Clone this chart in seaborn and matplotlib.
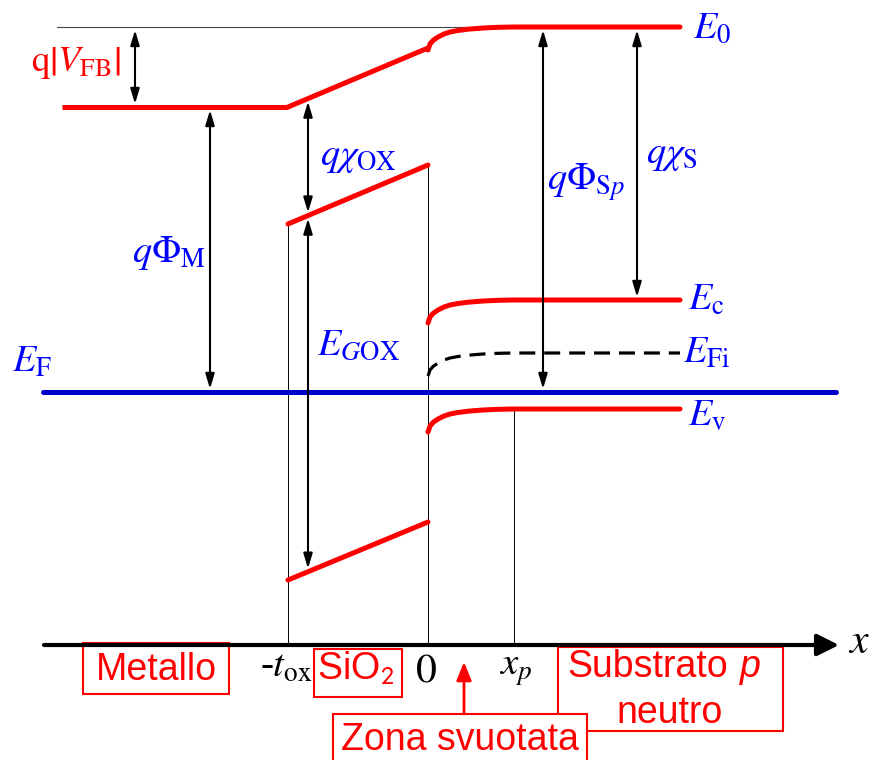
import numpy as np
import matplotlib
matplotlib.use("Agg")
import matplotlib.pyplot as plt
import seaborn as sns
from matplotlib.patches import Rectangle

# ---------------- data (x: position relative to the SiO2/Si interface, E: energy relative to E_F, arbitrary units)
x_metal_left = -366
x_tox = -140
x_interface = 0
x_p = 86
x_right = 252

E_F = 0
E0_bulk = 365
Ec_bulk = 92
EFi_bulk = 39
Ev_bulk = -17
E_vac_metal = 285

E_vac_ox = [285, 344]
E_c_ox = [168, 227]
E_v_ox = [-188, -130]

x_bend = [0, 2, 5, 10, 16, 22, 30, 40, 55, 70, 86]
band_bending = [23, 17, 13.5, 10, 7, 5, 3.5, 2.2, 1, 0.3, 0]

# ---------------- layout
axis_E = -253
RED = "#FF0000"
BLUE = "#0000FF"
EF_BLUE = "#0000CC"

sns.set_theme(style="white")
plt.rcParams["mathtext.fontset"] = "stix"
plt.rcParams["font.family"] = ["Liberation Sans", "DejaVu Sans"]

fig = plt.figure(figsize=(8.72, 7.6), dpi=100)
ax = fig.add_axes([0, 0, 1, 1])
ax.set_xlim(-428, 444)
ax.set_ylim(-368, 392)
ax.axis("off")


def line(x, y, **kw):
    sns.lineplot(x=list(x), y=list(y), ax=ax, sort=False, estimator=None,
                 legend=False, **kw)


lw_band = 3.6
# reference thin vacuum line
line([-371, x_right], [E0_bulk, E0_bulk], color="#444444", lw=0.8, zorder=2)

# metal vacuum level
line([x_metal_left, x_tox], [E_vac_metal, E_vac_metal], color=RED, lw=lw_band,
     solid_capstyle="butt", zorder=4)
# oxide bands
line([x_tox, x_interface], E_vac_ox, color=RED, lw=lw_band, solid_capstyle="round", zorder=4)
line([x_tox, x_interface], E_c_ox, color=RED, lw=lw_band, solid_capstyle="round", zorder=4)
line([x_tox, x_interface], E_v_ox, color=RED, lw=lw_band, solid_capstyle="round", zorder=4)

# semiconductor bands with band bending
xs = x_bend + [x_right]
def bent(bulk):
    return [bulk - b for b in band_bending] + [bulk]

line(xs, bent(E0_bulk), color=RED, lw=lw_band, solid_capstyle="round", zorder=4)
line(xs, bent(Ec_bulk), color=RED, lw=lw_band, solid_capstyle="round", zorder=4)
line(xs, bent(Ev_bulk), color=RED, lw=lw_band, solid_capstyle="round", zorder=4)
line(xs, bent(EFi_bulk), color="black", lw=2.3, linestyle=(0, (5, 2.8)), zorder=4)

# Fermi level
line([-385, 408], [E_F, E_F], color=EF_BLUE, lw=3.6, solid_capstyle="round", zorder=5)

# thin vertical guides
line([x_tox, x_tox], [E_c_ox[0], axis_E], color="black", lw=0.7, zorder=3)
line([x_interface, x_interface], [E_c_ox[1], axis_E], color="black", lw=0.7, zorder=3)
line([x_p, x_p], [Ev_bulk, axis_E], color="black", lw=0.7, zorder=3)

# x axis with arrow
ax.annotate("", xy=(411, axis_E), xytext=(-384, axis_E),
            arrowprops=dict(arrowstyle="-|>,head_length=1.1,head_width=0.55",
                            color="black", lw=3, mutation_scale=12,
                            shrinkA=0, shrinkB=0), zorder=6)


def darrow(x, top, bottom):
    ax.annotate("", xy=(x, bottom), xytext=(x, top),
                arrowprops=dict(arrowstyle="<|-|>,head_length=1.0,head_width=0.3",
                                color="black", lw=1.5, mutation_scale=9,
                                shrinkA=2.2, shrinkB=2.2), zorder=7)


x_vfb, x_phim, x_chiox, x_phis, x_chis = -293, -218, -120, 115, 209
darrow(x_vfb, E0_bulk, E_vac_metal)
darrow(x_phim, E_vac_metal, E_F)
vac_at = np.interp(x_chiox, [x_tox, x_interface], E_vac_ox)
ec_at = np.interp(x_chiox, [x_tox, x_interface], E_c_ox)
ev_at = np.interp(x_chiox, [x_tox, x_interface], E_v_ox)
darrow(x_chiox, vac_at, ec_at)
darrow(x_chiox, ec_at, ev_at)
darrow(x_phis, E0_bulk, E_F)
darrow(x_chis, E0_bulk, Ec_bulk)

# ---------------- labels
FS = 27.5
def mlabel(x, y, s, color=BLUE, size=FS, ha="left"):
    ax.text(x, y, s, color=color, fontsize=size, ha=ha, va="baseline", zorder=8)

mlabel(265, 354, r"$E_{\mathrm{0}}$")
mlabel(260, 82, r"$E_{\mathrm{c}}$")
mlabel(255, 29, r"$E_{\mathrm{Fi}}$")
mlabel(260, -33, r"$E_{\mathrm{v}}$")
mlabel(-416, 20, r"$E_{\mathrm{F}}$")
mlabel(-397, 320, r"$\mathrm{q}\left|V_{\mathrm{FB}}\right|$", color=RED, size=26.5)
mlabel(-296, 130, r"$q\Phi_{\mathrm{M}}$")
mlabel(-108, 227, r"$q\chi_{\mathrm{OX}}$")
mlabel(-111, 37, r"$E_{G\mathrm{OX}}$")
mlabel(119, 202, r"$q\Phi_{\mathrm{S}p}$")
mlabel(218, 229, r"$q\chi_{\mathrm{S}}$")

# axis labels
ax.text(-168, -285, r"-$t_{\mathrm{ox}}$", fontsize=28, color="black", ha="left",
        va="baseline", family="Liberation Serif", zorder=8)
ax.text(-2, -290, r"$\mathrm{0}$", fontsize=30, color="black", ha="center",
        va="baseline", zorder=8)
ax.text(71, -283, r"$x_p$", fontsize=28, color="black", ha="left",
        va="baseline", zorder=8)
ax.text(420, -261, r"$x$", fontsize=30, color="black", ha="left",
        va="baseline", zorder=8)

# boxed region labels
def box(x0, x1, e_top, e_bot, z=5):
    ax.add_patch(Rectangle((x0, e_bot), x1 - x0, e_top - e_bot, facecolor="white",
                           edgecolor=RED, lw=1.5, zorder=z))

SFS = 27
box(-345, -199, -251, -302)
ax.text(-272, -288, "Metallo", color=RED, fontsize=SFS, ha="center", va="baseline", zorder=8)
box(-114, -26, -257, -305)
ax.text(-72, -288, r"SiO$_{\mathsf{2}}$", color=RED, fontsize=SFS, ha="center", va="baseline", zorder=8)
box(130, 355, -255, -339)
ax.text(139, -285, "Substrato", color=RED, fontsize=SFS, ha="left", va="baseline", zorder=8)
ax.text(312, -285, "p", color=RED, fontsize=SFS, ha="left", va="baseline", style="italic", zorder=8)
ax.text(242, -331, "neutro", color=RED, fontsize=SFS, ha="center", va="baseline", zorder=8)
box(-95, 159, -322, -380, z=6)
ax.text(32, -358, "Zona svuotata", color=RED, fontsize=SFS, ha="center", va="baseline", zorder=8)
ax.annotate("", xy=(36, -270), xytext=(36, -322),
            arrowprops=dict(arrowstyle="-|>,head_length=1.1,head_width=0.45",
                            color=RED, lw=2, mutation_scale=10,
                            shrinkA=0, shrinkB=0), zorder=7)

fig.savefig("out.png", dpi=100)
